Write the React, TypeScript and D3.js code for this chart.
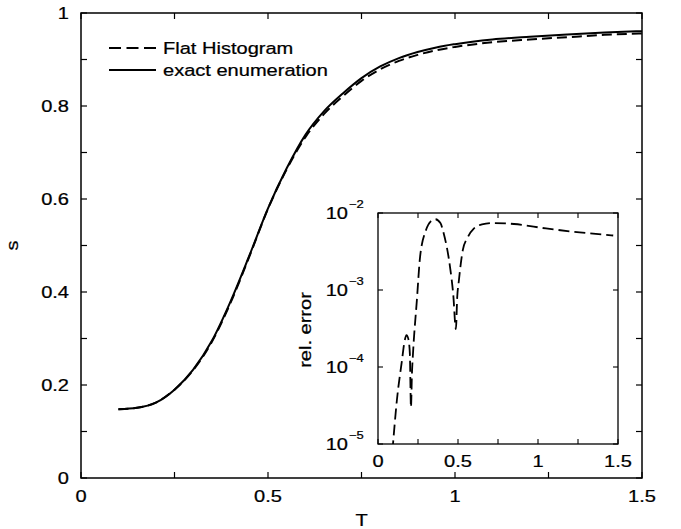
import React from "react";
import * as d3 from "d3";

// Main panel: s vs T
const tValues = [0.1, 0.15, 0.2, 0.25, 0.3, 0.35, 0.4, 0.45, 0.5, 0.55, 0.6, 0.65, 0.7, 0.75, 0.8, 0.85, 0.9, 0.95, 1.0, 1.1, 1.2, 1.3, 1.4, 1.5];
const exactS = [0.148, 0.151, 0.162, 0.19, 0.233, 0.295, 0.38, 0.478, 0.58, 0.666, 0.738, 0.789, 0.827, 0.86, 0.885, 0.903, 0.916, 0.926, 0.933, 0.943, 0.949, 0.954, 0.958, 0.961];
const flatS = [0.148, 0.151, 0.162, 0.19, 0.232, 0.293, 0.377, 0.476, 0.579, 0.664, 0.733, 0.783, 0.821, 0.854, 0.879, 0.897, 0.91, 0.92, 0.927, 0.937, 0.943, 0.948, 0.953, 0.956];

// Inset: relative error (log scale)
const insetT = [0.09, 0.118, 0.15, 0.165, 0.178, 0.19, 0.199, 0.206, 0.212, 0.22, 0.243, 0.263, 0.3, 0.33, 0.358, 0.39, 0.41, 0.45, 0.47, 0.487, 0.495, 0.505, 0.53, 0.56, 0.6, 0.65, 0.72, 0.85, 1.05, 1.26, 1.47];
const relErr = [8e-6, 3.7e-5, 1.23e-4, 2.1e-4, 2.6e-4, 2.3e-4, 1.5e-4, 3.0e-5, 8e-5, 1.66e-4, 7.4e-4, 2.7e-3, 6.0e-3, 7.8e-3, 8.3e-3, 7.4e-3, 5.5e-3, 2.0e-3, 8.9e-4, 3.1e-4, 8.0e-4, 1.3e-3, 3.3e-3, 4.8e-3, 6.3e-3, 7.1e-3, 7.4e-3, 7.2e-3, 6.3e-3, 5.6e-3, 5.1e-3];

const xTicksMain = [0, 0.5, 1, 1.5];
const yTicksMain = [0, 0.2, 0.4, 0.6, 0.8, 1];
const xTicksInset = [0, 0.5, 1, 1.5];
const yExpInset = [-5, -4, -3, -2];
const legendLabels = ["Flat Histogram", "exact enumeration"];

const FONT = "'Liberation Sans', Arial, Helvetica, sans-serif";
const SX = 1.18;

function Txt(props: { x: number; y: number; anchor?: string; size?: number; children: React.ReactNode; rotate?: boolean }) {
  const { x, y, anchor = "start", size = 17, children, rotate } = props;
  const tr = rotate ? `translate(${x},${y}) rotate(-90) scale(${SX},1)` : `translate(${x},${y}) scale(${SX},1)`;
  return (
    <text transform={tr} textAnchor={anchor as any} fontSize={size} fontFamily={FONT} stroke="#000" strokeWidth={0.25}>
      {children}
    </text>
  );
}

export default function App() {
  const W = 681, H = 529;
  const m = { left: 81, right: 642, top: 13, bottom: 478 };
  const x = d3.scaleLinear().domain([0, 1.5]).range([m.left, m.right]);
  const y = d3.scaleLinear().domain([0, 1]).range([m.bottom, m.top]);

  const ins = { left: 378, right: 618, top: 213, bottom: 444 };
  const xi = d3.scaleLinear().domain([0, 1.5]).range([ins.left, ins.right]);
  const yi = d3.scaleLog().domain([1e-5, 1e-2]).range([ins.bottom, ins.top]);

  const mk = (vals: number[]) =>
    d3.line<number>().x((_, i) => x(tValues[i])).y((d) => y(d)).curve(d3.curveMonotoneX)(vals) || "";
  const exactPath = mk(exactS);
  const flatPath = mk(flatS);
  const insetPath = d3.line<number>().x((_, i) => xi(insetT[i])).y((d) => yi(d)).curve(d3.curveMonotoneX)(relErr) || "";

  const xMinor = d3.range(0, 1.5001, 0.25);
  const yMinor = d3.range(0, 1.0001, 0.1);
  const tl = 6;
  const fs = 17;

  return (
    <svg width={W} height={H} style={{ position: "absolute", left: 0, top: 0, background: "#fff" }} fontFamily={FONT}>
      <rect x={0} y={0} width={W} height={H} fill="#fff" />
      {/* main frame */}
      <rect x={m.left} y={m.top} width={m.right - m.left} height={m.bottom - m.top} fill="none" stroke="#000" strokeWidth={1.5} />
      {xMinor.map((t, i) => (
        <g key={"xt" + i}>
          <line x1={x(t)} x2={x(t)} y1={m.bottom} y2={m.bottom - tl} stroke="#000" strokeWidth={1.2} />
          <line x1={x(t)} x2={x(t)} y1={m.top} y2={m.top + tl} stroke="#000" strokeWidth={1.2} />
        </g>
      ))}
      {yMinor.map((v, i) => (
        <g key={"yt" + i}>
          <line x1={m.left} x2={m.left + tl} y1={y(v)} y2={y(v)} stroke="#000" strokeWidth={1.2} />
          <line x1={m.right} x2={m.right - tl} y1={y(v)} y2={y(v)} stroke="#000" strokeWidth={1.2} />
        </g>
      ))}
      {xTicksMain.map((t) => (
        <Txt key={"xl" + t} x={x(t)} y={502} anchor="middle" size={fs}>{String(t)}</Txt>
      ))}
      {yTicksMain.map((v) => (
        <Txt key={"yl" + v} x={69} y={y(v) + 6} anchor="end" size={fs}>{String(v)}</Txt>
      ))}
      <Txt x={(m.left + m.right) / 2} y={526} anchor="middle" size={fs}>T</Txt>
      <Txt x={18} y={y(0.5)} anchor="middle" size={fs} rotate>s</Txt>

      {/* curves */}
      <path d={exactPath} fill="none" stroke="#000" strokeWidth={2} />
      <path d={flatPath} fill="none" stroke="#000" strokeWidth={2} strokeDasharray="10,5" />

      {/* legend */}
      <line x1={109} x2={156} y1={48} y2={48} stroke="#000" strokeWidth={1.8} strokeDasharray="12,5.5" />
      <Txt x={163} y={54} size={fs}>{legendLabels[0]}</Txt>
      <line x1={109} x2={156} y1={70} y2={70} stroke="#000" strokeWidth={1.8} />
      <Txt x={163} y={76} size={fs}>{legendLabels[1]}</Txt>

      {/* inset */}
      <rect x={ins.left} y={ins.top} width={ins.right - ins.left} height={ins.bottom - ins.top} fill="#fff" stroke="#000" strokeWidth={1.3} />
      <defs>
        <clipPath id="insetClip">
          <rect x={ins.left} y={ins.top} width={ins.right - ins.left} height={ins.bottom - ins.top} />
        </clipPath>
      </defs>
      {xMinor.map((t, i) => (
        <g key={"ixt" + i}>
          <line x1={xi(t)} x2={xi(t)} y1={ins.bottom} y2={ins.bottom - 5} stroke="#000" strokeWidth={1.1} />
          <line x1={xi(t)} x2={xi(t)} y1={ins.top} y2={ins.top + 5} stroke="#000" strokeWidth={1.1} />
        </g>
      ))}
      {yExpInset.map((e) => (
        <g key={"iyt" + e}>
          <line x1={ins.left} x2={ins.left + 5} y1={yi(Math.pow(10, e))} y2={yi(Math.pow(10, e))} stroke="#000" strokeWidth={1.1} />
          <line x1={ins.right} x2={ins.right - 5} y1={yi(Math.pow(10, e))} y2={yi(Math.pow(10, e))} stroke="#000" strokeWidth={1.1} />
          <Txt x={348} y={yi(Math.pow(10, e)) + 6} anchor="end" size={fs}>10</Txt>
          <Txt x={349} y={yi(Math.pow(10, e)) - 5} size={11}>{"\u2212" + String(-e)}</Txt>
        </g>
      ))}
      {xTicksInset.map((t) => (
        <Txt key={"ixl" + t} x={xi(t)} y={467} anchor="middle" size={fs}>{String(t)}</Txt>
      ))}
      <Txt x={311} y={330} anchor="middle" size={fs} rotate>rel. error</Txt>
      <path d={insetPath} fill="none" stroke="#000" strokeWidth={1.8} strokeDasharray="11,5" clipPath="url(#insetClip)" />
    </svg>
  );
}
